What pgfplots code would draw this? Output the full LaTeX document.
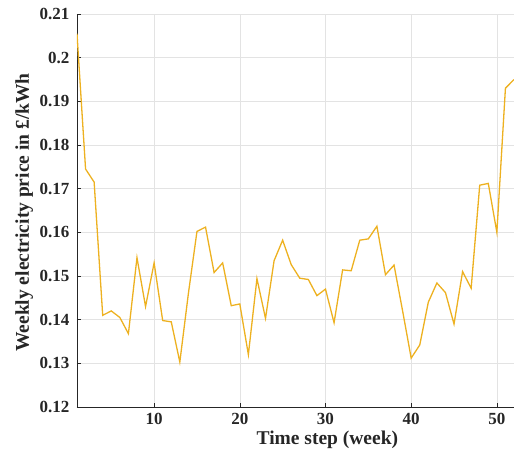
\documentclass[border=0pt]{standalone}
\usepackage{pgfplots}
\pgfplotsset{compat=1.18}
\usepackage{fontspec}
\setmainfont{Liberation Serif}

\definecolor{lineorange}{HTML}{EDB120}
\definecolor{axgray}{HTML}{262626}

\begin{document}
\begin{tikzpicture}
\useasboundingbox (-77pt,-48pt) rectangle (437pt,407pt);
\begin{axis}[
    scale only axis,
    width=437pt,
    height=393pt,
    xmin=1, xmax=52,
    ymin=0.12, ymax=0.21,
    xtick={10,20,30,40,50},
    ytick={0.12,0.13,0.14,0.15,0.16,0.17,0.18,0.19,0.2,0.21},
    yticklabels={0.12,0.13,0.14,0.15,0.16,0.17,0.18,0.19,0.2,0.21},
    scaled y ticks=false,
    axis x line*=bottom,
    axis y line*=left,
    axis line style={-, axgray, line width=0.9pt},
    tick style={axgray, line width=0.6pt},
    tick align=inside,
    major tick length=4pt,
    grid=major,
    major grid style={gray!22, line width=0.6pt},
    /pgf/number format/assume math mode=true,
    ticklabel style={font=\fontsize{17}{17}\selectfont\bfseries, text=black!85},
    yticklabel style={xshift=-4pt},
    xticklabel style={yshift=-3pt},
    xlabel={Time step (week)},
    ylabel={Weekly electricity price in £/kWh},
    label style={font=\fontsize{19.5}{19.5}\selectfont\bfseries, text=black!85},
    xlabel style={at={(axis description cs:0.573,-0.084)}, anchor=center},
    ylabel style={at={(axis description cs:-0.121,0.495)}, anchor=center},
]
\addplot[lineorange, line width=1.3pt] coordinates {
    (1,0.2055) (2,0.1745) (3,0.1715) (4,0.1410) (5,0.1420) (6,0.1405)
    (7,0.1368) (8,0.1542) (9,0.1430) (10,0.1530) (11,0.1398) (12,0.1395)
    (13,0.1303) (14,0.1460) (15,0.1602) (16,0.1612) (17,0.1508) (18,0.1530)
    (19,0.1432) (20,0.1436) (21,0.1320) (22,0.1494) (23,0.1403) (24,0.1535)
    (25,0.1582) (26,0.1526) (27,0.1495) (28,0.1492) (29,0.1455) (30,0.1470)
    (31,0.1393) (32,0.1514) (33,0.1512) (34,0.1582) (35,0.1585) (36,0.1614)
    (37,0.1503) (38,0.1525) (39,0.1420) (40,0.1312) (41,0.1342) (42,0.1440)
    (43,0.1484) (44,0.1462) (45,0.1390) (46,0.1510) (47,0.1472) (48,0.1708)
    (49,0.1712) (50,0.1600) (51,0.1930) (52,0.1950)
};
\end{axis}
\end{tikzpicture}
\end{document}
